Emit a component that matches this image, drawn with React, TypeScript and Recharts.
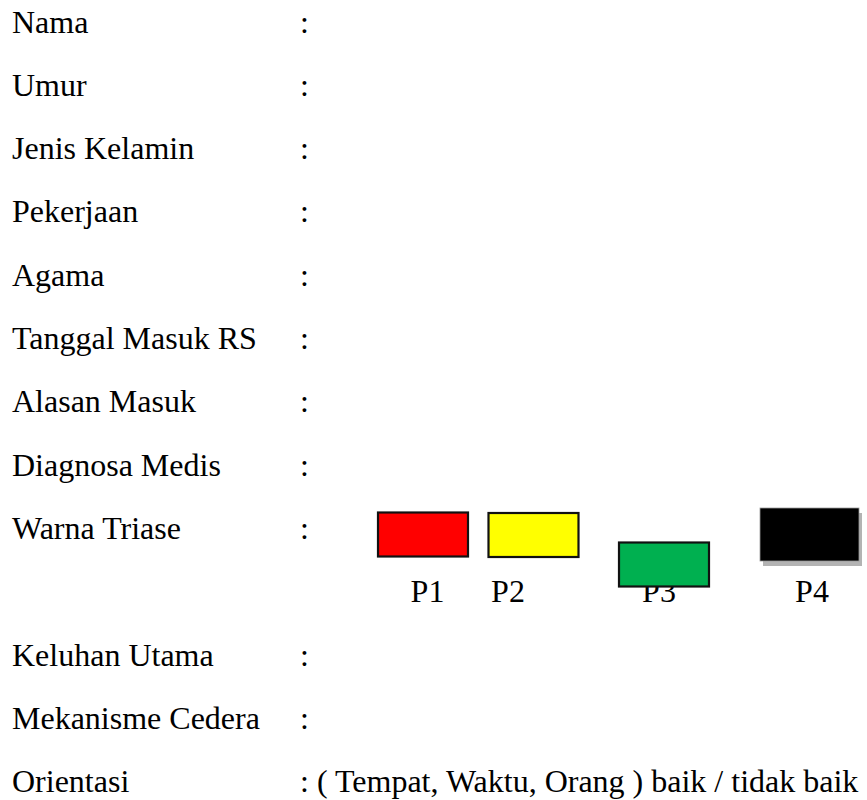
import { ScatterChart, Scatter, XAxis, YAxis } from 'recharts';

// form rows, top to bottom (row 9 holds the triage codes)
const fieldLabels = [
  'Nama',
  'Umur',
  'Jenis Kelamin',
  'Pekerjaan',
  'Agama',
  'Tanggal Masuk RS',
  'Alasan Masuk',
  'Diagnosa Medis',
  'Warna Triase',
  '',
  'Keluhan Utama',
  'Mekanisme Cedera',
  'Orientasi',
];
const fieldValues = ['', '', '', '', '', '', '', '', '', '', '', '', '( Tempat, Waktu, Orang ) baik / tidak baik'];

const triageCodes = ['P1', 'P2', 'P3', 'P4'];
const triageColors = ['#ff0000', '#ffff00', '#00b050', '#000000'];
// box centres and label centres, in page units
const triageBoxX = [423, 533.5, 664, 809.5];
const triageBoxY = [534.5, 535, 564.5, 534.5];
const triageLabelX = [427.5, 508, 659, 812];

const W = 867;
const H = 800;
const FONT = '"Liberation Serif", "Times New Roman", serif';
const FONT_SIZE = 32;
const ROW0 = 32.5;
const ROW_STEP = 63.3;
const LABEL_X = 12;
const COLON_X = 300;
const TRIAGE_ROW = 9;

const rowData = fieldLabels
  .map((label, i) => ({ x: LABEL_X, y: ROW0 + i * ROW_STEP, label, value: fieldValues[i] }))
  .filter((d) => d.label !== '');

const triageLabelData = triageCodes.map((code, i) => ({
  x: triageLabelX[i],
  y: ROW0 + TRIAGE_ROW * ROW_STEP,
  label: code,
}));

const boxData = triageCodes.map((code, i) => ({
  x: triageBoxX[i],
  y: triageBoxY[i],
  code,
  color: triageColors[i],
}));

const RowShape = (props: any) => {
  const { cx, cy, payload } = props;
  return (
    <g>
      <text x={cx} y={cy} fontFamily={FONT} fontSize={FONT_SIZE} fill="#000">
        {payload.label}
      </text>
      <text x={COLON_X} y={cy} fontFamily={FONT} fontSize={FONT_SIZE} fill="#000" style={{ whiteSpace: 'pre' }}>
        {payload.value ? ': ' + payload.value : ':'}
      </text>
    </g>
  );
};

const CodeShape = (props: any) => {
  const { cx, cy, payload } = props;
  return (
    <text x={cx} y={cy} textAnchor="middle" fontFamily={FONT} fontSize={FONT_SIZE} fill="#000">
      {payload.label}
    </text>
  );
};

const BoxShape = (props: any) => {
  const { cx, cy, payload } = props;
  if (payload.code === 'P4') {
    const w = 99;
    const h = 53;
    return (
      <g>
        <rect x={cx - w / 2 + 3} y={cy - h / 2 + 5} width={w} height={h} fill="#b3b3b3" />
        <rect x={cx - w / 2} y={cy - h / 2} width={w} height={h} fill="#000" stroke="#9a9a9a" strokeWidth={0.8} />
      </g>
    );
  }
  const w = 90;
  const h = 44;
  return (
    <rect
      x={cx - w / 2}
      y={cy - h / 2}
      width={w}
      height={h}
      fill={payload.color}
      stroke="#111"
      strokeWidth={2.2}
    />
  );
};

export default function App() {
  return (
    <div style={{ position: 'absolute', left: 0, top: 0, background: '#fff' }}>
      <ScatterChart width={W} height={H} margin={{ top: 0, right: 0, bottom: 0, left: 0 }}>
        <XAxis type="number" dataKey="x" domain={[0, W]} hide />
        <YAxis type="number" dataKey="y" domain={[0, H]} reversed hide />
        <Scatter data={rowData} shape={RowShape} isAnimationActive={false} />
        <Scatter data={triageLabelData} shape={CodeShape} isAnimationActive={false} />
        <Scatter data={boxData} shape={BoxShape} isAnimationActive={false} />
      </ScatterChart>
    </div>
  );
}
